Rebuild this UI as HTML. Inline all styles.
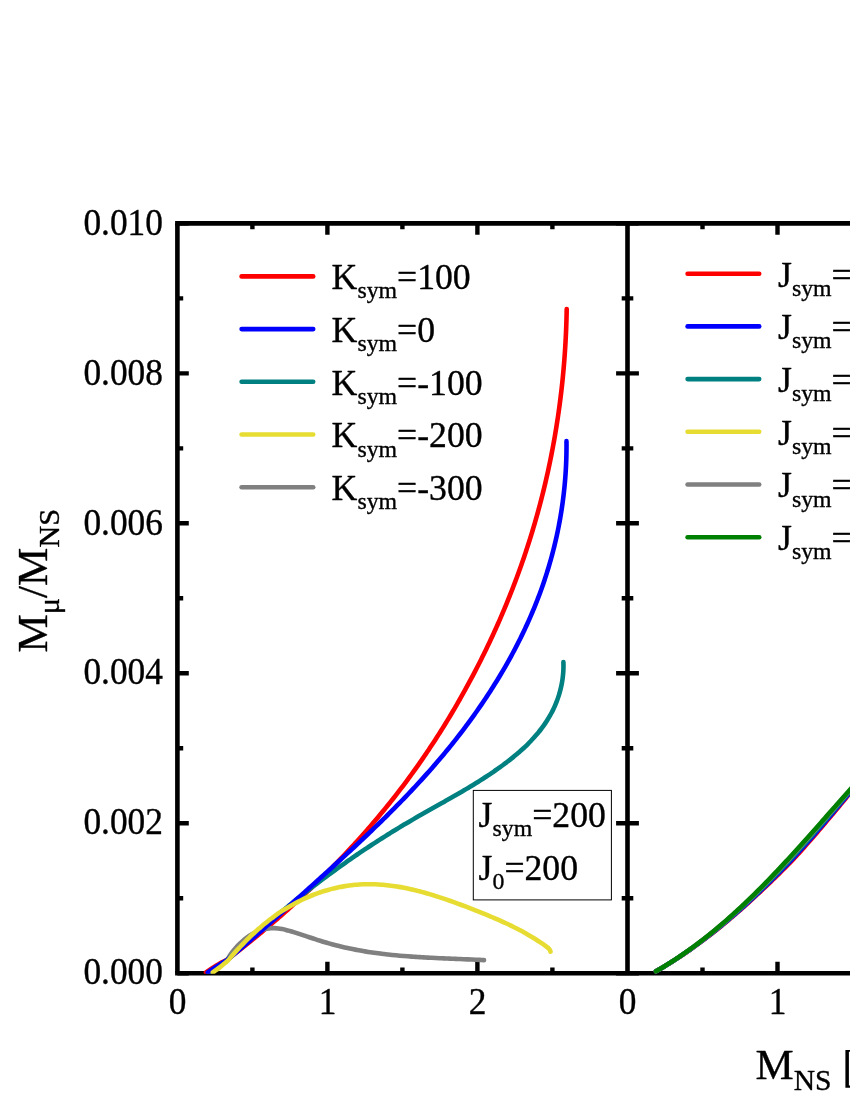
<!DOCTYPE html>
<html><head><meta charset="utf-8"><title>chart</title>
<style>html,body{margin:0;padding:0;background:#fff}body{width:850px;height:1100px;overflow:hidden}svg{display:block;will-change:transform}text{font-family:"Liberation Serif",serif;fill:#000;stroke:#000;stroke-width:0.35px;stroke-linejoin:round}</style></head><body>
<svg width="850" height="1100" viewBox="0 0 850 1100">
<rect x="0" y="0" width="850" height="1100" fill="#fff"/>
<defs><clipPath id="cl"><rect x="177.4" y="223.4" width="450.1" height="750.4"/></clipPath><clipPath id="cr"><rect x="627.5" y="223.4" width="222.5" height="750.4"/></clipPath></defs>
<g stroke="#000" fill="none" stroke-linecap="butt">
<g stroke-width="4.40">
<path d="M177.40 223.40h11.40 M616.10 223.40h22.80"/>
<path d="M177.40 298.38h5.80 M621.70 298.38h11.60"/>
<path d="M177.40 373.36h11.40 M616.10 373.36h22.80"/>
<path d="M177.40 448.34h5.80 M621.70 448.34h11.60"/>
<path d="M177.40 523.32h11.40 M616.10 523.32h22.80"/>
<path d="M177.40 598.30h5.80 M621.70 598.30h11.60"/>
<path d="M177.40 673.28h11.40 M616.10 673.28h22.80"/>
<path d="M177.40 748.26h5.80 M621.70 748.26h11.60"/>
<path d="M177.40 823.24h11.40 M616.10 823.24h22.80"/>
<path d="M177.40 898.22h5.80 M621.70 898.22h11.60"/>
<path d="M177.40 973.20h11.40 M616.10 973.20h22.80"/>
<path d="M252.40 223.40v5.80 M252.40 973.20v-5.80"/>
<path d="M327.40 223.40v11.40 M327.40 973.20v-11.40"/>
<path d="M402.40 223.40v5.80 M402.40 973.20v-5.80"/>
<path d="M477.40 223.40v11.40 M477.40 973.20v-11.40"/>
<path d="M552.40 223.40v5.80 M552.40 973.20v-5.80"/>
<path d="M702.50 223.40v5.80 M702.50 973.20v-5.80"/>
<path d="M777.50 223.40v11.40 M777.50 973.20v-11.40"/>
</g>
<g stroke-width="4.60">
<path d="M175.10 223.40H851 M175.10 973.20H851"/>
<path d="M177.40 223.40V973.20 M627.50 223.40V973.20"/>
</g></g>
<g fill="none" stroke-width="4.60" stroke-linecap="round" stroke-linejoin="round">
<g clip-path="url(#cl)">
<path stroke="#ff0000" d="M206.00 972.30C206.56 971.93 208.22 970.82 209.33 970.08C210.45 969.35 211.55 968.60 212.67 967.87C213.79 967.14 214.91 966.41 216.04 965.71C217.18 965.00 218.31 964.31 219.47 963.64C220.63 962.98 221.79 962.33 222.98 961.72C224.17 961.12 225.47 960.69 226.60 960.00C227.73 959.31 228.69 958.39 229.73 957.59C230.78 956.79 231.82 955.99 232.86 955.18C233.90 954.38 234.94 953.57 235.98 952.77C237.02 951.96 238.06 951.15 239.10 950.33C240.13 949.52 241.17 948.70 242.21 947.88C243.24 947.06 244.28 946.24 245.31 945.42C246.35 944.60 247.38 943.77 248.41 942.94C249.44 942.11 250.47 941.28 251.50 940.45C252.53 939.62 253.56 938.78 254.59 937.94C255.62 937.10 256.64 936.26 257.67 935.42C258.69 934.58 259.72 933.73 260.74 932.88C261.76 932.04 262.78 931.18 263.80 930.33C264.82 929.48 265.84 928.62 266.86 927.77C267.88 926.91 268.90 926.05 269.91 925.19C270.93 924.33 271.94 923.46 272.95 922.59C273.97 921.73 274.98 920.86 275.99 919.99C277.00 919.11 278.01 918.24 279.02 917.36C280.02 916.49 281.03 915.61 282.03 914.73C283.04 913.85 284.04 912.96 285.04 912.08C286.04 911.19 287.04 910.31 288.04 909.42C289.04 908.53 290.04 907.63 291.03 906.74C292.03 905.84 293.02 904.95 294.02 904.05C295.01 903.15 296.00 902.25 296.99 901.34C297.98 900.44 298.97 899.53 299.95 898.62C300.94 897.71 301.92 896.80 302.90 895.89C303.89 894.98 304.87 894.06 305.85 893.14C306.83 892.23 307.80 891.31 308.78 890.38C309.75 889.46 310.73 888.54 311.70 887.61C312.67 886.69 313.64 885.76 314.61 884.83C315.58 883.89 316.55 882.96 317.51 882.03C318.48 881.09 319.44 880.15 320.40 879.21C321.36 878.27 322.32 877.33 323.28 876.39C324.23 875.44 325.19 874.50 326.14 873.55C327.09 872.60 328.04 871.65 328.99 870.70C329.94 869.74 330.89 868.79 331.83 867.83C332.78 866.87 333.72 865.91 334.66 864.95C335.60 863.99 336.54 863.03 337.48 862.06C338.42 861.10 339.35 860.13 340.28 859.16C341.21 858.19 342.14 857.22 343.07 856.24C344.00 855.27 344.93 854.29 345.85 853.31C346.77 852.33 347.69 851.35 348.61 850.37C349.53 849.39 350.45 848.40 351.36 847.42C352.28 846.43 353.19 845.44 354.10 844.45C355.01 843.46 355.91 842.46 356.82 841.47C357.72 840.47 358.62 839.48 359.52 838.48C360.42 837.48 361.32 836.48 362.22 835.47C363.11 834.47 364.00 833.46 364.89 832.46C365.78 831.45 366.67 830.44 367.55 829.43C368.44 828.42 369.32 827.40 370.20 826.39C371.08 825.37 371.96 824.35 372.83 823.33C373.71 822.31 374.58 821.29 375.45 820.27C376.31 819.24 377.18 818.22 378.04 817.19C378.91 816.16 379.77 815.13 380.63 814.10C381.48 813.07 382.34 812.04 383.19 811.00C384.04 809.96 384.89 808.93 385.74 807.89C386.59 806.85 387.43 805.81 388.27 804.76C389.11 803.72 389.95 802.67 390.79 801.63C391.62 800.58 392.45 799.53 393.28 798.48C394.11 797.43 394.94 796.38 395.76 795.32C396.58 794.27 397.40 793.21 398.22 792.15C399.04 791.09 399.85 790.03 400.66 788.97C401.47 787.90 402.28 786.84 403.09 785.77C403.89 784.71 404.69 783.64 405.49 782.57C406.29 781.50 407.09 780.43 407.88 779.35C408.68 778.28 409.47 777.20 410.25 776.13C411.04 775.05 411.82 773.97 412.61 772.89C413.39 771.81 414.17 770.72 414.94 769.64C415.72 768.55 416.49 767.47 417.26 766.38C418.03 765.29 418.80 764.20 419.56 763.10C420.32 762.01 421.08 760.92 421.84 759.82C422.60 758.73 423.36 757.63 424.11 756.53C424.86 755.43 425.61 754.33 426.36 753.23C427.10 752.12 427.85 751.02 428.59 749.91C429.33 748.80 430.07 747.70 430.80 746.58C431.54 745.47 432.27 744.36 433.00 743.25C433.73 742.14 434.45 741.02 435.18 739.90C435.90 738.78 436.62 737.67 437.34 736.55C438.06 735.42 438.77 734.30 439.49 733.18C440.20 732.05 440.91 730.93 441.62 729.80C442.32 728.67 443.03 727.54 443.73 726.41C444.43 725.28 445.13 724.15 445.83 723.01C446.52 721.88 447.21 720.74 447.91 719.60C448.60 718.47 449.28 717.33 449.97 716.19C450.65 715.04 451.34 713.90 452.02 712.76C452.70 711.61 453.37 710.47 454.05 709.32C454.72 708.17 455.39 707.02 456.06 705.87C456.73 704.72 457.40 703.57 458.06 702.41C458.72 701.26 459.38 700.10 460.04 698.94C460.70 697.79 461.36 696.63 462.01 695.47C462.66 694.30 463.31 693.14 463.96 691.98C464.61 690.81 465.25 689.65 465.89 688.48C466.53 687.31 467.17 686.14 467.81 684.97C468.45 683.80 469.08 682.63 469.71 681.46C470.34 680.28 470.97 679.11 471.60 677.93C472.22 676.76 472.85 675.58 473.47 674.40C474.09 673.22 474.71 672.04 475.32 670.85C475.93 669.67 476.55 668.49 477.16 667.30C477.77 666.11 478.37 664.93 478.98 663.74C479.58 662.55 480.18 661.36 480.78 660.17C481.38 658.98 481.97 657.78 482.56 656.59C483.16 655.39 483.75 654.20 484.33 653.00C484.92 651.80 485.50 650.60 486.08 649.40C486.67 648.20 487.24 647.00 487.82 645.80C488.39 644.59 488.97 643.39 489.54 642.18C490.11 640.98 490.67 639.77 491.24 638.56C491.80 637.35 492.36 636.14 492.92 634.93C493.48 633.72 494.03 632.50 494.59 631.29C495.14 630.07 495.69 628.86 496.23 627.64C496.78 626.42 497.32 625.21 497.86 623.99C498.40 622.77 498.94 621.55 499.48 620.32C500.01 619.10 500.54 617.88 501.07 616.65C501.60 615.43 502.13 614.20 502.65 612.97C503.17 611.75 503.69 610.52 504.21 609.29C504.72 608.06 505.24 606.82 505.75 605.59C506.26 604.36 506.77 603.13 507.27 601.89C507.78 600.65 508.28 599.42 508.78 598.18C509.27 596.94 509.77 595.70 510.26 594.46C510.75 593.22 511.24 591.98 511.73 590.74C512.22 589.50 512.70 588.25 513.18 587.01C513.66 585.76 514.14 584.52 514.61 583.27C515.08 582.02 515.56 580.77 516.02 579.53C516.49 578.28 516.96 577.02 517.42 575.77C517.88 574.52 518.34 573.27 518.79 572.01C519.25 570.76 519.70 569.50 520.15 568.25C520.60 566.99 521.04 565.73 521.49 564.48C521.93 563.22 522.37 561.96 522.81 560.70C523.24 559.44 523.67 558.17 524.11 556.91C524.54 555.65 524.96 554.38 525.39 553.12C525.81 551.85 526.23 550.59 526.65 549.32C527.06 548.05 527.48 546.78 527.89 545.51C528.30 544.25 528.71 542.98 529.11 541.70C529.52 540.43 529.92 539.16 530.32 537.89C530.71 536.61 531.11 535.34 531.50 534.06C531.89 532.79 532.28 531.51 532.67 530.23C533.05 528.96 533.43 527.68 533.81 526.40C534.19 525.12 534.56 523.84 534.94 522.56C535.31 521.28 535.68 520.00 536.04 518.71C536.41 517.43 536.77 516.15 537.13 514.86C537.49 513.58 537.84 512.29 538.19 511.00C538.55 509.72 538.90 508.43 539.24 507.14C539.59 505.85 539.93 504.56 540.27 503.27C540.61 501.98 540.94 500.69 541.28 499.40C541.61 498.11 541.94 496.82 542.27 495.52C542.59 494.23 542.91 492.93 543.23 491.64C543.55 490.34 543.87 489.05 544.18 487.75C544.50 486.45 544.81 485.15 545.11 483.86C545.42 482.56 545.72 481.26 546.02 479.96C546.32 478.66 546.62 477.36 546.91 476.05C547.21 474.75 547.50 473.45 547.78 472.15C548.07 470.84 548.35 469.54 548.63 468.24C548.91 466.93 549.19 465.62 549.47 464.32C549.74 463.01 550.01 461.71 550.28 460.40C550.54 459.09 550.81 457.78 551.07 456.47C551.33 455.16 551.59 453.85 551.84 452.54C552.10 451.23 552.35 449.92 552.60 448.61C552.84 447.30 553.09 445.98 553.33 444.67C553.57 443.36 553.81 442.04 554.04 440.73C554.28 439.42 554.51 438.10 554.74 436.78C554.97 435.47 555.19 434.15 555.41 432.83C555.63 431.52 555.85 430.20 556.07 428.88C556.28 427.56 556.50 426.24 556.70 424.92C556.91 423.61 557.12 422.29 557.32 420.96C557.52 419.64 557.72 418.32 557.92 417.00C558.11 415.68 558.31 414.36 558.50 413.03C558.69 411.71 558.87 410.39 559.05 409.06C559.24 407.74 559.42 406.42 559.59 405.09C559.77 403.77 559.94 402.44 560.11 401.11C560.28 399.79 560.45 398.46 560.61 397.13C560.78 395.81 560.94 394.48 561.09 393.15C561.25 391.82 561.40 390.49 561.55 389.17C561.70 387.84 561.85 386.51 562.00 385.18C562.14 383.85 562.28 382.52 562.42 381.19C562.56 379.86 562.69 378.53 562.82 377.19C562.95 375.86 563.08 374.53 563.20 373.20C563.33 371.87 563.45 370.53 563.57 369.20C563.69 367.87 563.80 366.53 563.91 365.20C564.02 363.86 564.13 362.53 564.24 361.20C564.34 359.86 564.44 358.53 564.54 357.19C564.64 355.85 564.74 354.52 564.83 353.18C564.92 351.85 565.01 350.51 565.10 349.17C565.18 347.84 565.26 346.50 565.34 345.16C565.42 343.83 565.50 342.49 565.57 341.15C565.64 339.81 565.71 338.47 565.78 337.13C565.85 335.80 565.91 334.46 565.97 333.12C566.03 331.78 566.09 330.44 566.14 329.10C566.19 327.76 566.24 326.42 566.29 325.08C566.34 323.74 566.38 322.40 566.42 321.06C566.46 319.72 566.50 318.38 566.53 317.04C566.57 315.70 566.60 314.36 566.63 313.01C566.66 311.67 566.69 309.66 566.70 308.99"/>
<path stroke="#808080" d="M209.50 972.40C210.11 971.99 211.93 970.75 213.13 969.91C214.33 969.07 215.53 968.22 216.72 967.36C217.91 966.50 219.09 965.64 220.28 964.77C221.46 963.91 222.64 963.04 223.83 962.18C225.02 961.31 226.45 960.61 227.40 959.60C228.35 958.59 228.80 957.26 229.55 956.11C230.30 954.96 231.09 953.83 231.90 952.72C232.72 951.61 233.56 950.51 234.44 949.45C235.31 948.38 236.22 947.34 237.15 946.33C238.08 945.32 239.03 944.34 240.01 943.39C240.99 942.44 242.00 941.52 243.03 940.64C244.05 939.75 245.10 938.90 246.17 938.10C247.24 937.29 248.33 936.52 249.44 935.80C250.54 935.08 251.67 934.39 252.81 933.76C253.95 933.13 255.10 932.54 256.27 932.00C257.44 931.46 258.63 930.98 259.82 930.54C261.02 930.11 262.22 929.73 263.44 929.41C264.65 929.09 265.88 928.82 267.11 928.62C268.35 928.42 269.59 928.28 270.83 928.20C272.07 928.13 273.33 928.12 274.58 928.17C275.83 928.21 277.09 928.33 278.35 928.48C279.62 928.63 280.88 928.85 282.15 929.09C283.42 929.33 284.70 929.62 285.98 929.94C287.25 930.25 288.53 930.61 289.82 930.97C291.10 931.34 292.39 931.73 293.68 932.13C294.97 932.53 296.26 932.95 297.55 933.37C298.85 933.79 300.15 934.21 301.45 934.64C302.74 935.07 304.05 935.50 305.35 935.94C306.65 936.37 307.96 936.81 309.26 937.24C310.57 937.67 311.88 938.11 313.18 938.54C314.49 938.97 315.80 939.39 317.11 939.82C318.42 940.24 319.73 940.65 321.04 941.06C322.35 941.47 323.66 941.87 324.98 942.26C326.29 942.66 327.60 943.04 328.91 943.41C330.22 943.78 331.53 944.14 332.84 944.49C334.15 944.85 335.46 945.19 336.78 945.52C338.09 945.85 339.40 946.18 340.71 946.49C342.02 946.81 343.33 947.12 344.64 947.41C345.95 947.71 347.27 948.00 348.58 948.28C349.89 948.56 351.20 948.83 352.51 949.10C353.83 949.36 355.14 949.62 356.45 949.87C357.76 950.12 359.07 950.36 360.39 950.59C361.70 950.82 363.01 951.05 364.33 951.27C365.64 951.49 366.95 951.70 368.27 951.91C369.58 952.11 370.89 952.31 372.21 952.50C373.52 952.69 374.84 952.88 376.15 953.06C377.47 953.24 378.78 953.41 380.10 953.58C381.41 953.75 382.73 953.91 384.05 954.06C385.36 954.22 386.68 954.37 388.00 954.51C389.32 954.66 390.63 954.80 391.95 954.93C393.27 955.07 394.59 955.20 395.91 955.32C397.23 955.45 398.55 955.57 399.87 955.69C401.19 955.80 402.51 955.91 403.83 956.02C405.15 956.13 406.47 956.23 407.79 956.33C409.12 956.43 410.44 956.53 411.76 956.62C413.09 956.72 414.41 956.81 415.74 956.89C417.06 956.98 418.39 957.06 419.71 957.14C421.04 957.22 422.36 957.30 423.69 957.38C425.02 957.45 426.35 957.52 427.68 957.59C429.01 957.67 430.34 957.73 431.67 957.80C433.00 957.87 434.33 957.93 435.66 957.99C436.99 958.06 438.32 958.12 439.66 958.18C440.99 958.24 442.33 958.30 443.66 958.36C445.00 958.41 446.33 958.47 447.67 958.53C449.01 958.58 450.34 958.64 451.68 958.69C453.02 958.75 454.36 958.80 455.70 958.86C457.04 958.91 458.39 958.97 459.73 959.02C461.07 959.08 462.41 959.13 463.76 959.19C465.10 959.24 466.45 959.30 467.80 959.36C469.14 959.42 470.49 959.47 471.84 959.53C473.19 959.59 474.54 959.65 475.89 959.71C477.24 959.78 478.59 959.84 479.94 959.90C481.30 959.97 483.33 960.07 484.01 960.11"/>
<path stroke="#008080" d="M208.50 972.40C209.12 971.96 210.96 970.62 212.20 969.76C213.45 968.90 214.71 968.07 215.98 967.24C217.24 966.41 218.52 965.59 219.79 964.77C221.06 963.95 222.34 963.14 223.61 962.31C224.88 961.48 226.27 960.68 227.40 959.80C228.53 958.92 229.37 957.95 230.36 957.02C231.35 956.09 232.34 955.17 233.33 954.25C234.32 953.32 235.31 952.40 236.31 951.48C237.30 950.57 238.29 949.65 239.29 948.74C240.28 947.82 241.28 946.91 242.28 946.00C243.27 945.09 244.27 944.18 245.27 943.27C246.27 942.37 247.27 941.46 248.27 940.56C249.27 939.66 250.28 938.76 251.28 937.86C252.28 936.97 253.29 936.07 254.30 935.18C255.30 934.28 256.31 933.39 257.32 932.50C258.33 931.61 259.34 930.72 260.35 929.84C261.36 928.95 262.37 928.07 263.39 927.19C264.40 926.31 265.41 925.43 266.43 924.55C267.45 923.67 268.46 922.80 269.48 921.93C270.50 921.05 271.52 920.18 272.54 919.31C273.56 918.45 274.59 917.58 275.61 916.71C276.64 915.85 277.66 914.99 278.69 914.13C279.71 913.27 280.74 912.41 281.77 911.55C282.80 910.70 283.83 909.84 284.86 908.99C285.90 908.14 286.93 907.29 287.96 906.44C289.00 905.60 290.04 904.75 291.07 903.91C292.11 903.06 293.15 902.22 294.19 901.38C295.23 900.55 296.27 899.71 297.32 898.87C298.36 898.04 299.41 897.21 300.45 896.38C301.50 895.55 302.55 894.72 303.60 893.89C304.65 893.07 305.70 892.24 306.75 891.42C307.80 890.60 308.86 889.78 309.91 888.96C310.97 888.15 312.02 887.33 313.08 886.52C314.14 885.70 315.20 884.89 316.26 884.08C317.33 883.28 318.39 882.47 319.45 881.67C320.52 880.86 321.59 880.06 322.65 879.26C323.72 878.46 324.79 877.66 325.86 876.87C326.93 876.07 328.01 875.28 329.08 874.49C330.16 873.70 331.23 872.91 332.31 872.12C333.39 871.33 334.47 870.55 335.55 869.77C336.63 868.98 337.72 868.20 338.80 867.43C339.89 866.65 340.97 865.87 342.06 865.10C343.15 864.33 344.24 863.56 345.33 862.79C346.42 862.02 347.52 861.25 348.61 860.49C349.71 859.72 350.80 858.96 351.90 858.20C353.00 857.44 354.10 856.68 355.20 855.93C356.31 855.17 357.41 854.42 358.52 853.67C359.62 852.92 360.73 852.17 361.84 851.42C362.95 850.68 364.06 849.93 365.18 849.19C366.29 848.45 367.41 847.71 368.52 846.97C369.64 846.23 370.76 845.50 371.88 844.77C373.00 844.03 374.12 843.30 375.25 842.57C376.37 841.85 377.50 841.12 378.63 840.40C379.76 839.67 380.89 838.95 382.02 838.23C383.15 837.51 384.29 836.80 385.43 836.08C386.56 835.37 387.70 834.65 388.84 833.94C389.98 833.23 391.13 832.53 392.27 831.82C393.42 831.12 394.56 830.41 395.71 829.71C396.86 829.01 398.01 828.31 399.16 827.62C400.32 826.92 401.47 826.23 402.63 825.54C403.78 824.84 404.94 824.16 406.10 823.47C407.27 822.78 408.43 822.10 409.59 821.42C410.76 820.73 411.93 820.05 413.10 819.38C414.27 818.70 415.44 818.02 416.61 817.35C417.78 816.68 418.96 816.00 420.14 815.33C421.31 814.66 422.49 813.99 423.67 813.33C424.85 812.66 426.03 811.99 427.21 811.32C428.39 810.66 429.57 809.99 430.75 809.33C431.93 808.66 433.12 808.00 434.30 807.33C435.48 806.67 436.66 806.00 437.85 805.34C439.03 804.67 440.21 804.01 441.40 803.34C442.58 802.68 443.76 802.01 444.94 801.34C446.13 800.67 447.31 800.01 448.49 799.34C449.67 798.67 450.85 797.99 452.03 797.32C453.20 796.65 454.38 795.97 455.56 795.30C456.73 794.62 457.91 793.94 459.08 793.26C460.26 792.58 461.43 791.90 462.60 791.21C463.77 790.52 464.93 789.84 466.10 789.14C467.26 788.45 468.43 787.76 469.59 787.06C470.75 786.36 471.91 785.66 473.06 784.95C474.22 784.25 475.37 783.54 476.52 782.83C477.67 782.11 478.81 781.40 479.96 780.67C481.10 779.95 482.24 779.23 483.38 778.50C484.51 777.76 485.65 777.03 486.77 776.29C487.90 775.55 489.03 774.80 490.15 774.05C491.27 773.30 492.39 772.54 493.50 771.78C494.61 771.02 495.72 770.25 496.82 769.47C497.92 768.70 499.02 767.92 500.12 767.13C501.21 766.35 502.30 765.55 503.38 764.75C504.46 763.95 505.54 763.14 506.61 762.33C507.68 761.52 508.74 760.69 509.80 759.86C510.86 759.04 511.91 758.20 512.95 757.35C513.99 756.51 515.02 755.66 516.05 754.80C517.07 753.93 518.09 753.07 519.09 752.19C520.10 751.31 521.09 750.42 522.08 749.53C523.06 748.63 524.04 747.73 525.00 746.81C525.97 745.90 526.92 744.98 527.86 744.04C528.80 743.11 529.73 742.17 530.64 741.21C531.55 740.26 532.46 739.30 533.34 738.32C534.23 737.35 535.11 736.36 535.96 735.37C536.82 734.37 537.67 733.37 538.50 732.35C539.33 731.33 540.14 730.30 540.94 729.26C541.74 728.22 542.52 727.17 543.28 726.11C544.04 725.04 544.79 723.97 545.52 722.88C546.25 721.79 546.96 720.69 547.65 719.58C548.34 718.46 549.02 717.34 549.67 716.20C550.33 715.06 550.96 713.91 551.58 712.74C552.19 711.58 552.78 710.40 553.36 709.21C553.93 708.01 554.48 706.81 555.01 705.59C555.54 704.37 556.05 703.14 556.53 701.89C557.01 700.65 557.48 699.40 557.91 698.13C558.35 696.86 558.77 695.59 559.16 694.30C559.55 693.02 559.91 691.72 560.25 690.42C560.59 689.11 560.91 687.80 561.20 686.48C561.49 685.16 561.75 683.83 561.99 682.49C562.22 681.16 562.43 679.82 562.61 678.47C562.79 677.12 562.95 675.77 563.07 674.41C563.20 673.05 563.29 671.69 563.36 670.32C563.43 668.95 563.47 667.58 563.47 666.21C563.48 664.83 563.42 662.77 563.41 662.08"/>
<path stroke="#0000ff" d="M207.80 972.40C208.45 971.97 210.39 970.68 211.69 969.83C212.99 968.98 214.29 968.13 215.60 967.30C216.91 966.46 218.22 965.62 219.53 964.79C220.84 963.96 222.15 963.13 223.47 962.30C224.78 961.47 226.23 960.64 227.40 959.80C228.57 958.96 229.45 958.11 230.47 957.25C231.48 956.40 232.49 955.55 233.51 954.69C234.52 953.83 235.54 952.98 236.55 952.12C237.56 951.26 238.57 950.39 239.59 949.53C240.60 948.67 241.61 947.80 242.62 946.93C243.63 946.07 244.64 945.20 245.65 944.33C246.67 943.46 247.68 942.59 248.69 941.72C249.70 940.85 250.71 939.97 251.72 939.10C252.72 938.22 253.73 937.34 254.74 936.47C255.75 935.59 256.76 934.71 257.77 933.83C258.78 932.95 259.78 932.07 260.79 931.19C261.80 930.30 262.80 929.42 263.81 928.54C264.82 927.65 265.82 926.77 266.83 925.88C267.84 924.99 268.84 924.11 269.85 923.22C270.85 922.33 271.86 921.44 272.86 920.55C273.87 919.66 274.87 918.77 275.88 917.88C276.88 916.99 277.89 916.10 278.89 915.20C279.89 914.31 280.90 913.42 281.90 912.52C282.90 911.63 283.91 910.74 284.91 909.84C285.91 908.95 286.91 908.05 287.91 907.15C288.92 906.26 289.92 905.36 290.92 904.47C291.92 903.57 292.92 902.67 293.92 901.78C294.92 900.88 295.92 899.98 296.92 899.08C297.93 898.19 298.93 897.29 299.93 896.39C300.93 895.49 301.92 894.59 302.92 893.70C303.92 892.80 304.92 891.90 305.92 891.00C306.92 890.10 307.92 889.21 308.92 888.31C309.92 887.41 310.91 886.51 311.91 885.62C312.91 884.72 313.91 883.82 314.90 882.92C315.90 882.02 316.90 881.13 317.89 880.23C318.89 879.33 319.88 878.43 320.88 877.53C321.88 876.63 322.87 875.74 323.86 874.84C324.86 873.94 325.85 873.04 326.85 872.14C327.84 871.24 328.83 870.34 329.82 869.44C330.81 868.54 331.81 867.64 332.80 866.74C333.79 865.83 334.78 864.93 335.77 864.03C336.75 863.13 337.74 862.23 338.73 861.32C339.72 860.42 340.71 859.51 341.69 858.61C342.68 857.71 343.66 856.80 344.65 855.89C345.63 854.99 346.61 854.08 347.60 853.18C348.58 852.27 349.56 851.36 350.54 850.45C351.52 849.54 352.50 848.63 353.48 847.72C354.46 846.81 355.44 845.90 356.41 844.99C357.39 844.08 358.36 843.16 359.34 842.25C360.31 841.33 361.28 840.42 362.26 839.50C363.23 838.59 364.20 837.67 365.17 836.75C366.14 835.83 367.11 834.91 368.07 833.99C369.04 833.07 370.00 832.15 370.97 831.23C371.93 830.30 372.90 829.38 373.86 828.45C374.82 827.53 375.78 826.60 376.74 825.67C377.70 824.75 378.65 823.82 379.61 822.88C380.56 821.95 381.52 821.02 382.47 820.09C383.42 819.15 384.38 818.22 385.32 817.28C386.27 816.35 387.22 815.41 388.17 814.47C389.11 813.53 390.06 812.59 391.00 811.64C391.95 810.70 392.89 809.76 393.83 808.81C394.77 807.86 395.70 806.91 396.64 805.96C397.58 805.01 398.51 804.06 399.44 803.11C400.37 802.16 401.30 801.20 402.23 800.24C403.16 799.29 404.09 798.33 405.01 797.37C405.94 796.41 406.86 795.44 407.78 794.48C408.70 793.51 409.62 792.55 410.54 791.58C411.45 790.61 412.37 789.64 413.28 788.67C414.19 787.69 415.10 786.72 416.01 785.74C416.92 784.76 417.83 783.78 418.73 782.80C419.63 781.82 420.54 780.84 421.44 779.85C422.34 778.86 423.23 777.87 424.13 776.88C425.02 775.89 425.92 774.90 426.81 773.90C427.70 772.91 428.58 771.91 429.47 770.91C430.36 769.91 431.24 768.91 432.12 767.90C433.00 766.90 433.88 765.89 434.75 764.88C435.63 763.87 436.50 762.85 437.37 761.84C438.24 760.82 439.11 759.80 439.98 758.78C440.84 757.76 441.71 756.74 442.57 755.71C443.43 754.68 444.28 753.65 445.14 752.62C445.99 751.59 446.85 750.55 447.70 749.52C448.55 748.48 449.39 747.44 450.24 746.40C451.08 745.35 451.92 744.31 452.76 743.26C453.60 742.21 454.43 741.16 455.26 740.10C456.10 739.05 456.93 737.99 457.75 736.93C458.58 735.87 459.40 734.81 460.22 733.75C461.04 732.68 461.86 731.61 462.67 730.54C463.49 729.47 464.30 728.40 465.10 727.33C465.91 726.25 466.71 725.17 467.52 724.09C468.32 723.01 469.11 721.93 469.91 720.84C470.70 719.76 471.49 718.67 472.28 717.58C473.07 716.49 473.85 715.39 474.63 714.30C475.41 713.20 476.19 712.10 476.96 711.00C477.73 709.90 478.50 708.80 479.27 707.69C480.04 706.58 480.80 705.48 481.56 704.36C482.31 703.25 483.07 702.14 483.82 701.02C484.57 699.91 485.32 698.79 486.06 697.67C486.81 696.55 487.55 695.42 488.28 694.30C489.02 693.17 489.75 692.04 490.48 690.91C491.21 689.78 491.93 688.65 492.65 687.51C493.37 686.38 494.08 685.24 494.80 684.10C495.51 682.96 496.22 681.82 496.92 680.67C497.62 679.53 498.32 678.38 499.02 677.23C499.71 676.08 500.40 674.93 501.09 673.78C501.78 672.62 502.46 671.47 503.14 670.31C503.81 669.15 504.49 667.99 505.16 666.82C505.83 665.66 506.49 664.49 507.15 663.33C507.81 662.16 508.47 660.99 509.12 659.82C509.77 658.64 510.41 657.47 511.06 656.29C511.70 655.12 512.34 653.94 512.97 652.76C513.60 651.57 514.23 650.39 514.85 649.20C515.47 648.02 516.09 646.83 516.71 645.64C517.32 644.45 517.93 643.26 518.53 642.07C519.14 640.87 519.73 639.67 520.33 638.48C520.92 637.28 521.51 636.08 522.09 634.87C522.68 633.67 523.26 632.47 523.83 631.26C524.40 630.05 524.97 628.84 525.54 627.63C526.10 626.42 526.66 625.21 527.21 623.99C527.76 622.78 528.31 621.56 528.86 620.34C529.40 619.12 529.94 617.90 530.47 616.68C531.00 615.46 531.53 614.23 532.05 613.00C532.57 611.78 533.08 610.55 533.59 609.32C534.10 608.09 534.61 606.85 535.11 605.62C535.61 604.38 536.10 603.14 536.59 601.91C537.08 600.67 537.56 599.43 538.03 598.18C538.51 596.94 538.98 595.70 539.45 594.45C539.91 593.20 540.37 591.96 540.83 590.70C541.28 589.45 541.73 588.20 542.17 586.95C542.61 585.69 543.05 584.44 543.48 583.18C543.91 581.92 544.33 580.66 544.75 579.40C545.17 578.14 545.59 576.88 545.99 575.61C546.40 574.35 546.80 573.08 547.20 571.81C547.59 570.55 547.98 569.28 548.37 568.00C548.75 566.73 549.13 565.46 549.50 564.18C549.87 562.91 550.24 561.63 550.60 560.35C550.96 559.07 551.31 557.79 551.66 556.51C552.01 555.23 552.35 553.94 552.69 552.66C553.03 551.37 553.36 550.09 553.68 548.80C554.01 547.51 554.33 546.22 554.64 544.92C554.95 543.63 555.26 542.34 555.56 541.04C555.86 539.75 556.15 538.45 556.44 537.15C556.73 535.85 557.01 534.55 557.29 533.25C557.57 531.95 557.84 530.65 558.10 529.34C558.36 528.04 558.62 526.73 558.87 525.42C559.13 524.11 559.37 522.80 559.61 521.49C559.85 520.18 560.09 518.87 560.31 517.56C560.54 516.24 560.76 514.93 560.98 513.61C561.19 512.29 561.40 510.97 561.61 509.65C561.81 508.33 562.01 507.01 562.20 505.69C562.39 504.37 562.57 503.04 562.75 501.72C562.93 500.39 563.10 499.06 563.26 497.73C563.43 496.41 563.59 495.08 563.74 493.74C563.90 492.41 564.04 491.08 564.18 489.75C564.32 488.41 564.46 487.08 564.59 485.74C564.71 484.40 564.83 483.06 564.95 481.72C565.07 480.39 565.17 479.04 565.28 477.70C565.38 476.36 565.48 475.02 565.57 473.67C565.65 472.33 565.74 470.98 565.82 469.63C565.89 468.29 565.96 466.94 566.03 465.59C566.09 464.24 566.15 462.89 566.20 461.54C566.25 460.18 566.30 458.83 566.34 457.48C566.37 456.12 566.41 454.77 566.43 453.41C566.46 452.05 566.48 450.69 566.49 449.33C566.50 447.97 566.51 446.61 566.51 445.25C566.51 443.89 566.49 441.84 566.48 441.16"/>
<path stroke="#e6dc32" d="M212.80 972.40C213.44 971.95 215.40 970.65 216.67 969.72C217.93 968.79 219.16 967.82 220.39 966.84C221.61 965.87 222.81 964.85 224.02 963.85C225.22 962.84 226.57 961.80 227.60 960.80C228.63 959.80 229.32 958.82 230.19 957.83C231.06 956.84 231.93 955.84 232.81 954.85C233.69 953.86 234.57 952.87 235.47 951.89C236.36 950.90 237.27 949.92 238.18 948.94C239.09 947.96 240.00 946.98 240.93 946.00C241.85 945.03 242.79 944.06 243.73 943.09C244.67 942.13 245.62 941.17 246.57 940.21C247.53 939.26 248.49 938.31 249.46 937.36C250.43 936.42 251.41 935.48 252.40 934.55C253.39 933.62 254.38 932.70 255.38 931.78C256.39 930.87 257.40 929.96 258.41 929.06C259.43 928.16 260.46 927.27 261.49 926.39C262.53 925.51 263.57 924.63 264.62 923.77C265.67 922.91 266.72 922.06 267.79 921.22C268.85 920.38 269.93 919.55 271.01 918.73C272.09 917.91 273.18 917.10 274.28 916.31C275.37 915.52 276.48 914.74 277.59 913.97C278.70 913.20 279.82 912.44 280.95 911.70C282.08 910.96 283.22 910.23 284.36 909.51C285.50 908.80 286.65 908.09 287.81 907.40C288.96 906.72 290.13 906.04 291.30 905.38C292.47 904.72 293.65 904.07 294.83 903.44C296.01 902.80 297.20 902.18 298.40 901.58C299.59 900.97 300.79 900.38 302.00 899.80C303.21 899.23 304.42 898.67 305.64 898.12C306.86 897.57 308.08 897.04 309.31 896.52C310.54 896.00 311.77 895.50 313.01 895.01C314.25 894.53 315.49 894.06 316.74 893.60C317.99 893.14 319.24 892.70 320.50 892.28C321.75 891.85 323.02 891.44 324.28 891.05C325.54 890.66 326.81 890.28 328.09 889.92C329.36 889.56 330.63 889.21 331.91 888.89C333.19 888.56 334.48 888.25 335.76 887.95C337.05 887.66 338.34 887.38 339.63 887.12C340.92 886.85 342.21 886.61 343.51 886.38C344.81 886.16 346.11 885.95 347.41 885.75C348.71 885.56 350.01 885.39 351.32 885.23C352.62 885.07 353.93 884.93 355.24 884.81C356.55 884.69 357.86 884.58 359.17 884.50C360.48 884.41 361.79 884.34 363.11 884.29C364.42 884.24 365.74 884.21 367.05 884.20C368.37 884.18 369.69 884.19 371.00 884.21C372.32 884.22 373.64 884.26 374.96 884.31C376.28 884.37 377.60 884.43 378.92 884.52C380.24 884.60 381.56 884.70 382.88 884.82C384.20 884.93 385.53 885.06 386.85 885.20C388.17 885.35 389.49 885.50 390.81 885.68C392.14 885.85 393.46 886.03 394.78 886.23C396.10 886.43 397.43 886.64 398.75 886.87C400.07 887.09 401.39 887.33 402.72 887.58C404.04 887.83 405.36 888.09 406.68 888.36C408.00 888.64 409.32 888.92 410.64 889.21C411.96 889.51 413.28 889.82 414.60 890.13C415.92 890.45 417.24 890.78 418.55 891.11C419.87 891.45 421.19 891.80 422.50 892.15C423.82 892.51 425.13 892.87 426.45 893.25C427.76 893.62 429.07 894.00 430.38 894.39C431.69 894.78 433.00 895.18 434.31 895.58C435.62 895.99 436.93 896.40 438.23 896.82C439.54 897.24 440.84 897.67 442.14 898.10C443.44 898.54 444.74 898.98 446.04 899.42C447.34 899.86 448.64 900.32 449.93 900.77C451.23 901.23 452.52 901.69 453.81 902.15C455.10 902.62 456.39 903.09 457.67 903.56C458.96 904.04 460.25 904.52 461.53 905.00C462.81 905.48 464.09 905.96 465.36 906.45C466.64 906.94 467.91 907.43 469.19 907.92C470.46 908.42 471.73 908.91 472.99 909.41C474.26 909.91 475.52 910.40 476.78 910.90C478.04 911.40 479.30 911.90 480.55 912.41C481.81 912.91 483.06 913.42 484.31 913.92C485.55 914.43 486.80 914.94 488.04 915.45C489.28 915.97 490.52 916.48 491.75 917.01C492.99 917.53 494.22 918.05 495.45 918.58C496.68 919.11 497.90 919.64 499.12 920.18C500.34 920.72 501.56 921.26 502.77 921.81C503.98 922.36 505.19 922.92 506.39 923.48C507.60 924.04 508.80 924.61 509.99 925.19C511.19 925.76 512.38 926.35 513.57 926.94C514.76 927.53 515.94 928.13 517.12 928.73C518.30 929.34 519.47 929.95 520.64 930.58C521.81 931.20 522.98 931.84 524.14 932.48C525.30 933.12 526.45 933.78 527.60 934.44C528.75 935.10 529.90 935.78 531.04 936.46C532.18 937.14 533.32 937.84 534.45 938.55C535.58 939.25 536.70 939.97 537.82 940.70C538.94 941.44 540.06 942.18 541.17 942.93C542.28 943.69 543.38 944.46 544.48 945.24C545.58 946.03 547.07 947.09 547.76 947.63C548.45 948.18 548.34 948.21 548.62 948.50C548.90 948.80 549.19 949.09 549.44 949.42C549.68 949.74 549.91 950.08 550.09 950.45C550.27 950.81 550.43 951.41 550.50 951.60"/>
</g>
<g clip-path="url(#cr)">
<path stroke="#ff0000" d="M656.00 971.30C656.58 970.96 658.34 969.94 659.51 969.25C660.68 968.57 661.85 967.89 663.01 967.21C664.18 966.52 665.34 965.83 666.49 965.13C667.65 964.43 668.80 963.73 669.94 963.02C671.09 962.31 672.23 961.59 673.37 960.87C674.51 960.15 675.64 959.43 676.77 958.69C677.90 957.96 679.03 957.22 680.15 956.48C681.27 955.74 682.39 954.99 683.50 954.24C684.61 953.49 685.72 952.73 686.83 951.97C687.93 951.20 689.03 950.43 690.13 949.66C691.23 948.89 692.32 948.11 693.41 947.33C694.50 946.54 695.59 945.75 696.67 944.96C697.75 944.17 698.83 943.37 699.90 942.57C700.98 941.77 702.07 940.98 703.14 940.18C704.22 939.38 705.29 938.58 706.36 937.77C707.43 936.96 708.50 936.15 709.56 935.33C710.62 934.51 711.68 933.69 712.74 932.86C713.79 932.04 714.85 931.20 715.90 930.37C716.95 929.53 717.99 928.70 719.04 927.85C720.08 927.01 721.12 926.16 722.16 925.31C723.19 924.46 724.23 923.60 725.26 922.74C726.29 921.88 727.32 921.02 728.34 920.15C729.37 919.29 730.39 918.42 731.41 917.55C732.44 916.68 733.47 915.82 734.49 914.94C735.51 914.07 736.53 913.20 737.55 912.32C738.56 911.44 739.58 910.56 740.59 909.67C741.60 908.78 742.61 907.90 743.62 907.00C744.62 906.11 745.63 905.22 746.63 904.32C747.63 903.42 748.63 902.52 749.62 901.61C750.62 900.71 751.61 899.80 752.60 898.89C753.59 897.98 754.58 897.06 755.57 896.14C756.56 895.23 757.54 894.31 758.52 893.39C759.51 892.46 760.48 891.54 761.46 890.61C762.45 889.69 763.43 888.77 764.41 887.84C765.39 886.91 766.37 885.99 767.34 885.06C768.32 884.12 769.30 883.19 770.27 882.26C771.24 881.32 772.21 880.38 773.18 879.44C774.15 878.50 775.11 877.56 776.08 876.62C777.04 875.67 778.01 874.73 778.97 873.78C779.93 872.83 780.89 871.88 781.85 870.93C782.81 869.98 783.76 869.03 784.72 868.07C785.67 867.12 786.63 866.16 787.58 865.20C788.53 864.24 789.48 863.29 790.43 862.32C791.38 861.36 792.33 860.41 793.26 859.42C794.18 858.44 795.07 857.42 795.97 856.42C796.87 855.41 797.78 854.41 798.68 853.40C799.58 852.40 800.48 851.39 801.37 850.39C802.27 849.38 803.17 848.37 804.07 847.36C804.96 846.36 805.86 845.35 806.75 844.34C807.64 843.33 808.54 842.32 809.43 841.31C810.32 840.30 811.22 839.29 812.10 838.27C812.99 837.26 813.86 836.23 814.74 835.21C815.62 834.19 816.49 833.16 817.37 832.14C818.24 831.11 819.11 830.09 819.98 829.06C820.86 828.04 821.73 827.01 822.60 825.99C823.47 824.96 824.34 823.94 825.21 822.91C826.08 821.89 826.95 820.86 827.82 819.84C828.69 818.81 829.56 817.79 830.43 816.76C831.30 815.74 832.17 814.71 833.03 813.68C833.89 812.65 834.74 811.61 835.59 810.58C836.45 809.54 837.30 808.51 838.16 807.47C839.01 806.44 839.87 805.41 840.72 804.38C841.58 803.34 842.43 802.31 843.29 801.28C844.14 800.25 845.00 799.22 845.85 798.19C846.71 797.16 847.56 796.14 848.42 795.11C849.27 794.08 850.13 793.05 850.99 792.03C851.84 791.00 852.70 789.98 853.56 788.96C854.42 787.94 855.28 786.92 856.14 785.90C857.00 784.88 857.86 783.86 858.72 782.84C859.58 781.83 860.87 780.30 861.31 779.80"/>
<path stroke="#0000ff" d="M656.00 971.30C656.58 970.96 658.34 969.94 659.51 969.25C660.68 968.57 661.85 967.89 663.01 967.20C664.17 966.51 665.33 965.82 666.48 965.11C667.64 964.41 668.78 963.71 669.93 962.99C671.07 962.28 672.21 961.56 673.35 960.84C674.49 960.12 675.62 959.39 676.75 958.65C677.87 957.92 679.00 957.18 680.12 956.43C681.24 955.69 682.35 954.94 683.46 954.18C684.57 953.43 685.68 952.67 686.78 951.90C687.89 951.14 688.99 950.37 690.08 949.59C691.18 948.82 692.27 948.03 693.35 947.25C694.44 946.46 695.53 945.67 696.61 944.88C697.69 944.08 698.76 943.28 699.83 942.48C700.91 941.68 701.99 940.88 703.06 940.08C704.13 939.27 705.20 938.46 706.27 937.65C707.33 936.84 708.39 936.02 709.45 935.20C710.51 934.37 711.57 933.55 712.62 932.71C713.67 931.88 714.72 931.05 715.76 930.21C716.81 929.37 717.85 928.53 718.89 927.68C719.93 926.83 720.96 925.98 722.00 925.12C723.03 924.27 724.06 923.41 725.08 922.54C726.11 921.68 727.13 920.81 728.15 919.94C729.18 919.07 730.19 918.20 731.21 917.32C732.23 916.45 733.25 915.58 734.27 914.70C735.28 913.82 736.29 912.94 737.30 912.05C738.31 911.17 739.32 910.28 740.33 909.39C741.33 908.50 742.33 907.60 743.33 906.70C744.33 905.80 745.33 904.90 746.32 904.00C747.32 903.09 748.31 902.19 749.30 901.27C750.29 900.36 751.27 899.45 752.26 898.53C753.24 897.62 754.23 896.70 755.21 895.77C756.19 894.85 757.16 893.93 758.14 893.00C759.11 892.07 760.09 891.14 761.06 890.21C762.03 889.28 763.01 888.35 763.98 887.42C764.95 886.48 765.92 885.55 766.89 884.61C767.86 883.67 768.82 882.73 769.79 881.79C770.75 880.85 771.71 879.90 772.67 878.96C773.63 878.01 774.59 877.06 775.55 876.11C776.51 875.16 777.46 874.21 778.41 873.25C779.37 872.30 780.32 871.34 781.27 870.38C782.22 869.43 783.17 868.47 784.11 867.51C785.06 866.54 786.00 865.58 786.95 864.62C787.89 863.65 788.83 862.69 789.77 861.72C790.71 860.75 791.66 859.79 792.58 858.80C793.50 857.81 794.39 856.80 795.30 855.80C796.20 854.80 797.10 853.80 798.01 852.79C798.91 851.79 799.81 850.79 800.71 849.78C801.61 848.78 802.50 847.77 803.40 846.77C804.30 845.76 805.19 844.75 806.09 843.74C806.98 842.74 807.88 841.73 808.77 840.72C809.67 839.71 810.56 838.70 811.45 837.69C812.34 836.68 813.22 835.66 814.10 834.64C814.98 833.62 815.86 832.60 816.74 831.58C817.61 830.56 818.49 829.54 819.37 828.52C820.24 827.49 821.12 826.47 822.00 825.45C822.87 824.43 823.75 823.41 824.62 822.39C825.50 821.37 826.37 820.35 827.25 819.33C828.12 818.31 829.00 817.29 829.87 816.27C830.74 815.24 831.61 814.22 832.48 813.20C833.35 812.17 834.21 811.14 835.07 810.11C835.93 809.09 836.79 808.06 837.66 807.03C838.52 806.01 839.38 804.98 840.24 803.95C841.11 802.93 841.97 801.90 842.83 800.88C843.70 799.86 844.56 798.83 845.42 797.81C846.28 796.79 847.15 795.77 848.01 794.75C848.88 793.73 849.74 792.71 850.60 791.69C851.47 790.67 852.33 789.65 853.20 788.64C854.07 787.62 854.93 786.61 855.80 785.59C856.67 784.58 857.54 783.57 858.40 782.56C859.27 781.55 860.58 780.04 861.01 779.53"/>
<path stroke="#008080" d="M656.00 971.30C656.58 970.96 658.34 969.94 659.51 969.25C660.68 968.57 661.84 967.88 663.00 967.19C664.16 966.50 665.32 965.80 666.47 965.09C667.62 964.39 668.77 963.68 669.91 962.96C671.05 962.25 672.19 961.52 673.32 960.80C674.46 960.07 675.58 959.34 676.71 958.60C677.83 957.86 678.96 957.12 680.07 956.37C681.19 955.62 682.30 954.87 683.41 954.11C684.52 953.35 685.62 952.59 686.72 951.82C687.82 951.05 688.92 950.28 690.01 949.50C691.11 948.72 692.19 947.93 693.28 947.15C694.36 946.36 695.44 945.56 696.52 944.77C697.60 943.97 698.67 943.16 699.74 942.36C700.81 941.55 701.88 940.75 702.95 939.94C704.02 939.12 705.08 938.31 706.14 937.49C707.20 936.67 708.26 935.84 709.31 935.02C710.36 934.19 711.41 933.35 712.46 932.52C713.50 931.68 714.54 930.84 715.58 929.99C716.62 929.15 717.66 928.30 718.69 927.44C719.72 926.59 720.75 925.73 721.78 924.87C722.81 924.01 723.83 923.14 724.85 922.27C725.87 921.40 726.89 920.53 727.90 919.65C728.92 918.78 729.93 917.90 730.94 917.02C731.95 916.13 732.96 915.25 733.97 914.37C734.97 913.48 735.98 912.59 736.98 911.70C737.98 910.80 738.98 909.91 739.97 909.01C740.97 908.11 741.96 907.20 742.95 906.30C743.94 905.39 744.93 904.48 745.91 903.57C746.90 902.66 747.88 901.74 748.86 900.82C749.84 899.90 750.82 898.98 751.80 898.06C752.77 897.13 753.74 896.20 754.72 895.27C755.69 894.35 756.65 893.41 757.62 892.48C758.59 891.54 759.55 890.60 760.51 889.66C761.48 888.72 762.44 887.79 763.40 886.84C764.36 885.90 765.32 884.96 766.28 884.01C767.23 883.06 768.19 882.11 769.14 881.16C770.09 880.21 771.04 879.26 771.99 878.30C772.94 877.35 773.89 876.39 774.83 875.43C775.78 874.47 776.72 873.51 777.66 872.54C778.61 871.58 779.55 870.62 780.48 869.65C781.42 868.68 782.36 867.71 783.30 866.74C784.23 865.77 785.16 864.80 786.10 863.83C787.03 862.85 787.96 861.88 788.89 860.90C789.82 859.92 790.75 858.95 791.67 857.96C792.58 856.97 793.48 855.97 794.39 854.97C795.29 853.97 796.20 852.97 797.10 851.97C798.00 850.97 798.91 849.97 799.81 848.97C800.71 847.97 801.61 846.96 802.51 845.96C803.40 844.95 804.30 843.95 805.20 842.94C806.10 841.94 806.99 840.93 807.89 839.93C808.78 838.92 809.68 837.91 810.57 836.90C811.46 835.89 812.35 834.88 813.23 833.87C814.12 832.85 815.00 831.84 815.89 830.82C816.77 829.81 817.65 828.79 818.54 827.78C819.42 826.76 820.30 825.75 821.18 824.73C822.07 823.72 822.95 822.70 823.83 821.69C824.71 820.67 825.59 819.66 826.47 818.64C827.35 817.63 828.23 816.61 829.11 815.60C829.99 814.58 830.87 813.57 831.75 812.55C832.62 811.53 833.49 810.51 834.36 809.49C835.24 808.47 836.11 807.45 836.98 806.44C837.86 805.42 838.73 804.40 839.60 803.39C840.48 802.37 841.35 801.35 842.22 800.34C843.09 799.32 843.97 798.31 844.84 797.30C845.72 796.28 846.59 795.27 847.46 794.26C848.34 793.25 849.21 792.24 850.09 791.23C850.96 790.22 851.84 789.21 852.71 788.20C853.59 787.19 854.47 786.19 855.35 785.18C856.22 784.18 857.10 783.18 857.98 782.18C858.86 781.17 860.18 779.67 860.62 779.17"/>
<path stroke="#808080" d="M656.00 971.30C656.58 970.96 658.34 969.94 659.51 969.25C660.68 968.57 661.84 967.88 663.00 967.18C664.15 966.48 665.31 965.78 666.46 965.07C667.60 964.36 668.75 963.65 669.89 962.93C671.03 962.21 672.16 961.49 673.29 960.76C674.43 960.02 675.55 959.29 676.68 958.55C677.80 957.81 678.92 957.06 680.03 956.31C681.14 955.56 682.25 954.80 683.36 954.04C684.47 953.28 685.57 952.51 686.67 951.74C687.76 950.96 688.86 950.19 689.95 949.41C691.04 948.62 692.12 947.84 693.21 947.05C694.29 946.25 695.37 945.46 696.44 944.66C697.51 943.86 698.58 943.05 699.65 942.24C700.72 941.43 701.78 940.62 702.85 939.80C703.91 938.98 704.96 938.16 706.02 937.33C707.07 936.51 708.12 935.68 709.17 934.84C710.22 934.01 711.26 933.17 712.30 932.32C713.34 931.48 714.38 930.63 715.41 929.78C716.44 928.93 717.47 928.08 718.50 927.22C719.53 926.36 720.55 925.49 721.57 924.63C722.59 923.76 723.61 922.89 724.62 922.01C725.64 921.14 726.65 920.26 727.66 919.38C728.67 918.49 729.67 917.61 730.67 916.72C731.68 915.83 732.68 914.94 733.68 914.05C734.67 913.15 735.67 912.25 736.66 911.35C737.65 910.45 738.64 909.55 739.63 908.64C740.62 907.73 741.60 906.82 742.58 905.90C743.56 904.99 744.54 904.07 745.52 903.15C746.50 902.23 747.47 901.31 748.44 900.38C749.41 899.46 750.38 898.53 751.35 897.60C752.31 896.66 753.28 895.73 754.24 894.79C755.20 893.85 756.16 892.91 757.12 891.97C758.08 891.03 759.03 890.08 759.98 889.14C760.94 888.19 761.89 887.24 762.84 886.29C763.79 885.34 764.74 884.38 765.68 883.43C766.63 882.47 767.57 881.51 768.51 880.55C769.46 879.59 770.39 878.63 771.33 877.67C772.27 876.70 773.21 875.74 774.14 874.77C775.08 873.80 776.01 872.83 776.94 871.86C777.87 870.89 778.80 869.91 779.73 868.94C780.65 867.96 781.58 866.98 782.51 866.00C783.43 865.03 784.35 864.04 785.27 863.06C786.20 862.08 787.12 861.10 788.03 860.11C788.95 859.13 789.87 858.14 790.78 857.15C791.70 856.16 792.60 855.16 793.51 854.17C794.42 853.17 795.32 852.18 796.23 851.18C797.13 850.18 798.03 849.18 798.94 848.18C799.84 847.18 800.74 846.18 801.64 845.18C802.54 844.18 803.44 843.17 804.34 842.17C805.23 841.17 806.13 840.16 807.03 839.16C807.93 838.15 808.82 837.15 809.72 836.14C810.61 835.14 811.50 834.13 812.39 833.12C813.28 832.11 814.18 831.10 815.07 830.09C815.95 829.09 816.84 828.08 817.73 827.07C818.62 826.06 819.51 825.05 820.40 824.04C821.29 823.03 822.17 822.02 823.06 821.01C823.95 820.00 824.83 818.99 825.72 817.98C826.61 816.97 827.49 815.96 828.38 814.95C829.26 813.94 830.15 812.93 831.03 811.92C831.92 810.91 832.80 809.90 833.68 808.89C834.57 807.88 835.45 806.87 836.33 805.86C837.21 804.85 838.10 803.84 838.98 802.83C839.86 801.83 840.75 800.82 841.63 799.81C842.51 798.81 843.40 797.80 844.28 796.80C845.16 795.79 846.05 794.79 846.93 793.79C847.82 792.78 848.70 791.78 849.59 790.78C850.47 789.78 851.36 788.78 852.24 787.78C853.13 786.78 854.02 785.78 854.90 784.79C855.79 783.79 856.68 782.80 857.57 781.80C858.46 780.81 859.79 779.32 860.24 778.83"/>
<path stroke="#008000" d="M656.00 971.30C656.58 970.96 658.34 969.94 659.51 969.25C660.68 968.57 661.84 967.87 662.99 967.18C664.15 966.48 665.30 965.77 666.45 965.06C667.60 964.35 668.74 963.64 669.88 962.91C671.02 962.19 672.15 961.47 673.28 960.73C674.41 960.00 675.54 959.26 676.66 958.52C677.78 957.78 678.90 957.03 680.01 956.28C681.12 955.52 682.23 954.76 683.33 954.00C684.44 953.24 685.54 952.47 686.64 951.69C687.73 950.92 688.82 950.14 689.91 949.36C691.00 948.57 692.09 947.78 693.17 946.99C694.25 946.20 695.32 945.40 696.40 944.60C697.47 943.80 698.54 942.99 699.60 942.18C700.67 941.36 701.73 940.55 702.79 939.73C703.85 938.91 704.90 938.08 705.95 937.25C707.00 936.42 708.05 935.59 709.09 934.75C710.14 933.91 711.18 933.07 712.22 932.22C713.25 931.38 714.29 930.53 715.32 929.67C716.35 928.82 717.37 927.96 718.40 927.09C719.42 926.23 720.44 925.37 721.46 924.50C722.48 923.62 723.49 922.75 724.50 921.87C725.51 921.00 726.52 920.11 727.53 919.23C728.53 918.34 729.53 917.45 730.53 916.56C731.53 915.67 732.53 914.77 733.52 913.88C734.51 912.98 735.50 912.07 736.49 911.17C737.48 910.26 738.46 909.35 739.45 908.44C740.43 907.53 741.41 906.61 742.39 905.70C743.36 904.78 744.34 903.86 745.31 902.93C746.28 902.01 747.25 901.08 748.22 900.15C749.18 899.22 750.15 898.29 751.11 897.35C752.07 896.41 753.03 895.48 753.99 894.53C754.94 893.59 755.90 892.65 756.85 891.70C757.80 890.76 758.75 889.81 759.70 888.86C760.65 887.90 761.60 886.95 762.54 885.99C763.48 885.04 764.43 884.08 765.37 883.12C766.31 882.16 767.24 881.20 768.18 880.23C769.12 879.27 770.05 878.30 770.98 877.33C771.91 876.36 772.84 875.39 773.77 874.42C774.70 873.44 775.63 872.47 776.55 871.49C777.48 870.51 778.40 869.54 779.32 868.56C780.25 867.58 781.17 866.59 782.08 865.61C783.00 864.63 783.92 863.64 784.84 862.66C785.75 861.67 786.67 860.68 787.58 859.69C788.49 858.70 789.40 857.71 790.31 856.72C791.22 855.73 792.13 854.73 793.04 853.74C793.95 852.75 794.85 851.75 795.76 850.75C796.66 849.76 797.57 848.76 798.47 847.76C799.37 846.76 800.28 845.76 801.18 844.76C802.08 843.76 802.98 842.76 803.88 841.76C804.78 840.76 805.67 839.75 806.57 838.75C807.47 837.75 808.37 836.74 809.26 835.74C810.16 834.73 811.05 833.73 811.95 832.72C812.84 831.72 813.73 830.71 814.63 829.71C815.52 828.70 816.41 827.69 817.30 826.69C818.20 825.68 819.09 824.67 819.98 823.67C820.87 822.66 821.76 821.65 822.65 820.64C823.54 819.64 824.43 818.63 825.32 817.62C826.21 816.62 827.10 815.61 827.99 814.60C828.88 813.60 829.76 812.59 830.65 811.58C831.54 810.58 832.43 809.57 833.32 808.57C834.21 807.56 835.10 806.56 835.98 805.55C836.87 804.55 837.76 803.54 838.65 802.54C839.54 801.54 840.43 800.54 841.32 799.53C842.20 798.53 843.09 797.53 843.98 796.53C844.87 795.53 845.76 794.53 846.65 793.53C847.54 792.53 848.43 791.54 849.32 790.54C850.21 789.54 851.10 788.55 851.99 787.56C852.89 786.56 853.78 785.57 854.67 784.58C855.56 783.58 856.46 782.59 857.35 781.61C858.24 780.62 859.58 779.14 860.03 778.64"/>
</g></g>
<g font-size="36">
<text transform="translate(162.9 234.60) scale(0.982 1.043)" text-anchor="end">0.010</text>
<text transform="translate(162.9 384.56) scale(0.982 1.043)" text-anchor="end">0.008</text>
<text transform="translate(162.9 534.52) scale(0.982 1.043)" text-anchor="end">0.006</text>
<text transform="translate(162.9 684.48) scale(0.982 1.043)" text-anchor="end">0.004</text>
<text transform="translate(162.9 834.44) scale(0.982 1.043)" text-anchor="end">0.002</text>
<text transform="translate(162.9 984.40) scale(0.982 1.043)" text-anchor="end">0.000</text>
<text transform="translate(177.60 1014.0) scale(0.982 1.043)" text-anchor="middle">0</text>
<text transform="translate(327.60 1014.0) scale(0.982 1.043)" text-anchor="middle">1</text>
<text transform="translate(477.60 1014.0) scale(0.982 1.043)" text-anchor="middle">2</text>
<text transform="translate(627.70 1014.0) scale(0.982 1.043)" text-anchor="middle">0</text>
<text transform="translate(777.70 1014.0) scale(0.982 1.043)" text-anchor="middle">1</text>
</g>
<g fill="none" stroke-width="4.60" stroke-linecap="round">
<path stroke="#ff0000" d="M241.6 276.40H313.2"/>
<path stroke="#0000ff" d="M241.6 329.10H313.2"/>
<path stroke="#008080" d="M241.6 381.80H313.2"/>
<path stroke="#e6dc32" d="M241.6 434.50H313.2"/>
<path stroke="#808080" d="M241.6 487.20H313.2"/>
<path stroke="#ff0000" d="M687.6 273.70H759.2"/>
<path stroke="#0000ff" d="M687.6 326.40H759.2"/>
<path stroke="#008080" d="M687.6 379.10H759.2"/>
<path stroke="#e6dc32" d="M687.6 431.80H759.2"/>
<path stroke="#808080" d="M687.6 484.50H759.2"/>
<path stroke="#008000" d="M687.6 537.20H759.2"/>
</g>
<g font-size="35.7">
<text x="331.6" y="289.20">K<tspan font-size="23.8" dy="9.2">sym</tspan><tspan dy="-9.2">=100</tspan></text>
<text x="331.6" y="341.90">K<tspan font-size="23.8" dy="9.2">sym</tspan><tspan dy="-9.2">=0</tspan></text>
<text x="331.6" y="394.60">K<tspan font-size="23.8" dy="9.2">sym</tspan><tspan dy="-9.2">=-100</tspan></text>
<text x="331.6" y="447.30">K<tspan font-size="23.8" dy="9.2">sym</tspan><tspan dy="-9.2">=-200</tspan></text>
<text x="331.6" y="500.00">K<tspan font-size="23.8" dy="9.2">sym</tspan><tspan dy="-9.2">=-300</tspan></text>
<text x="778.0" y="286.50">J<tspan font-size="23.8" dy="9.2">sym</tspan><tspan dy="-9.2">=100</tspan></text>
<text x="778.0" y="339.20">J<tspan font-size="23.8" dy="9.2">sym</tspan><tspan dy="-9.2">=200</tspan></text>
<text x="778.0" y="391.90">J<tspan font-size="23.8" dy="9.2">sym</tspan><tspan dy="-9.2">=300</tspan></text>
<text x="778.0" y="444.60">J<tspan font-size="23.8" dy="9.2">sym</tspan><tspan dy="-9.2">=400</tspan></text>
<text x="778.0" y="497.30">J<tspan font-size="23.8" dy="9.2">sym</tspan><tspan dy="-9.2">=500</tspan></text>
<text x="778.0" y="550.00">J<tspan font-size="23.8" dy="9.2">sym</tspan><tspan dy="-9.2">=600</tspan></text>
<rect x="473.3" y="790.4" width="138.1" height="109.5" fill="#fff" stroke="#000" stroke-width="1"/>
<text x="478.6" y="827.2">J<tspan font-size="23.8" dy="9.2">sym</tspan><tspan dy="-9.2">=200</tspan></text>
<text x="478.6" y="879.8">J<tspan font-size="23.8" dy="9.2">0</tspan><tspan dy="-9.2">=200</tspan></text>
</g>
<g font-size="43">
<text x="755.4" y="1078.6">M<tspan font-size="29.6" dy="11.7">NS</tspan></text>
<path d="M845.4 1050.1H851V1051.8H848.9V1085.6H851V1087.7H845.4Z" fill="#000"/>
<text transform="translate(47 652.5) rotate(-90)" x="0" y="0">M<tspan font-size="30.4" dy="11.7">&#956;</tspan><tspan dy="-11.7">/M</tspan><tspan font-size="30.4" dy="11.7">NS</tspan></text>
</g>
</svg></body></html>
